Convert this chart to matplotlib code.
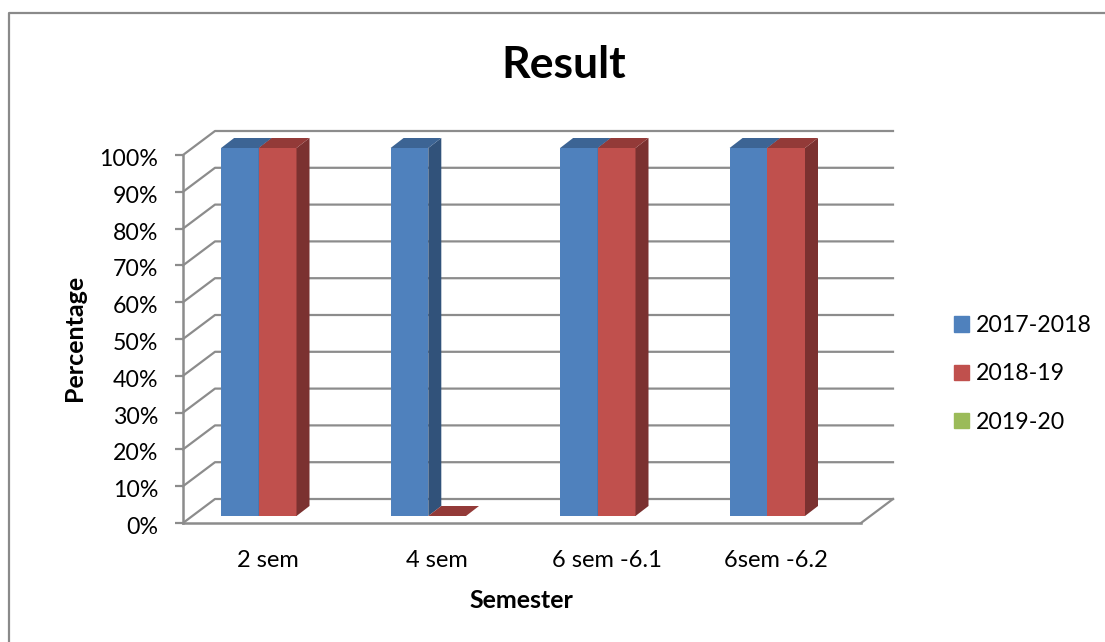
import matplotlib
matplotlib.use("Agg")
import matplotlib.pyplot as plt
from matplotlib.lines import Line2D
from matplotlib.patches import Polygon, Patch
from matplotlib.transforms import ScaledTranslation
import numpy as np

plt.rcParams['font.family'] = ['Lato', 'DejaVu Sans']

categories = ["2 sem", "4 sem", "6 sem -6.1", "6sem -6.2"]
series_names = ["2017-2018", "2018-19", "2019-20"]
y2017 = [100, 100, 100, 100]
y2018 = [100, 0, 100, 100]
y2019 = [np.nan, np.nan, np.nan, np.nan]
yticks = [0, 10, 20, 30, 40, 50, 60, 70, 80, 90, 100]

front = ['#4F81BD', '#C0504D', '#9BBB59']
side = ['#31527A', '#7B3130', '#637A38']
top = ['#3C6494', '#933A38', '#789044']
grey = '#8C8C8C'

W, H = 1105, 642
fig = plt.figure(figsize=(W / 100, H / 100), dpi=100)
ax = fig.add_axes([183 / W, 1 - 523 / H, 678 / W, 368 / H])
ax.set_xlim(0, 4)
ax.set_ylim(0, 100)
ppx = 678 / 4     # pixels per category
ppy = 368 / 100   # pixels per percent

# 3d look: walls and floor
wall_dx, wall_dy = 32 / ppx, 24 / ppy
for v in yticks:
    ax.plot([0, wall_dx, 4 + wall_dx], [v, v + wall_dy, v + wall_dy], color=grey, lw=1.6, clip_on=False, zorder=1)
ax.plot([4, 4 + wall_dx], [0, wall_dy], color=grey, lw=1.6, clip_on=False, zorder=1)

# bars stand a bit inside the floor
bar_w = 37.7 / ppx
base_x, base_y = 9.9 / ppx, 7 / ppy
dep_x, dep_y = 13 / ppx, 10 / ppy
xpos = np.arange(len(categories)) + 0.5

for i, vals in enumerate([y2017, y2018, y2019]):
    xs = xpos + base_x + (i - 1) * bar_w
    ax.bar(xs, vals, width=bar_w, bottom=base_y, color=front[i], clip_on=False, zorder=3 + i)
    for x, v in zip(xs, vals):
        if np.isnan(v):
            continue
        l, r = x - bar_w / 2, x + bar_w / 2
        b, t = base_y, v + base_y
        ax.add_patch(Polygon([(r, b), (r + dep_x, b + dep_y), (r + dep_x, t + dep_y), (r, t)],
                             color=side[i], lw=0, clip_on=False, zorder=3 + i))
        ax.add_patch(Polygon([(l, t), (l + dep_x, t + dep_y), (r + dep_x, t + dep_y), (r, t)],
                             color=top[i], lw=0, clip_on=False, zorder=3 + i))

for s in ['top', 'right']:
    ax.spines[s].set_visible(False)
for s in ['left', 'bottom']:
    ax.spines[s].set_color(grey)
    ax.spines[s].set_linewidth(1.8)
    ax.spines[s].set_zorder(2)
ax.patch.set_visible(False)

ax.set_yticks(yticks)
ax.set_yticklabels([f"{v}%" for v in yticks])
ax.tick_params(axis='y', length=5.8, width=1.6, color=grey, pad=12, labelsize=16.7, labelcolor='black')
ax.set_xticks(xpos)
ax.set_xticklabels(categories)
ax.tick_params(axis='x', length=0, pad=19.5, labelsize=17, labelcolor='black')

# percent labels sit a little under their ticks
nudge = ScaledTranslation(0, -2.5 / 100, fig.dpi_scale_trans)
for lab in ax.get_yticklabels():
    lab.set_transform(lab.get_transform() + nudge)

fig.text(564 / W, 1 - 65 / H, "Result", fontsize=32, fontweight='bold', ha='center', va='center')
fig.text(74 / W, 1 - 338 / H, "Percentage", fontsize=18, fontweight='bold', rotation=90, ha='center', va='center')
fig.text(521 / W, 1 - 600 / H, "Semester", fontsize=18, fontweight='bold', ha='center', va='center')

handles = [Patch(color=c) for c in front]
fig.legend(handles, series_names, loc='center left', bbox_to_anchor=(954 / W, 1 - 374 / H), frameon=False,
           fontsize=16.7, handlelength=0.65, handleheight=0.65, handletextpad=0.3, labelspacing=1.17,
           borderpad=0, borderaxespad=0)

# chart frame, only top and left are in the picture
fig.add_artist(Line2D([8.5 / W, 8.5 / W, 1], [0, 1 - 12.5 / H, 1 - 12.5 / H], color='#8A8A8A', lw=1.6))

fig.savefig("out.png", dpi=100)
